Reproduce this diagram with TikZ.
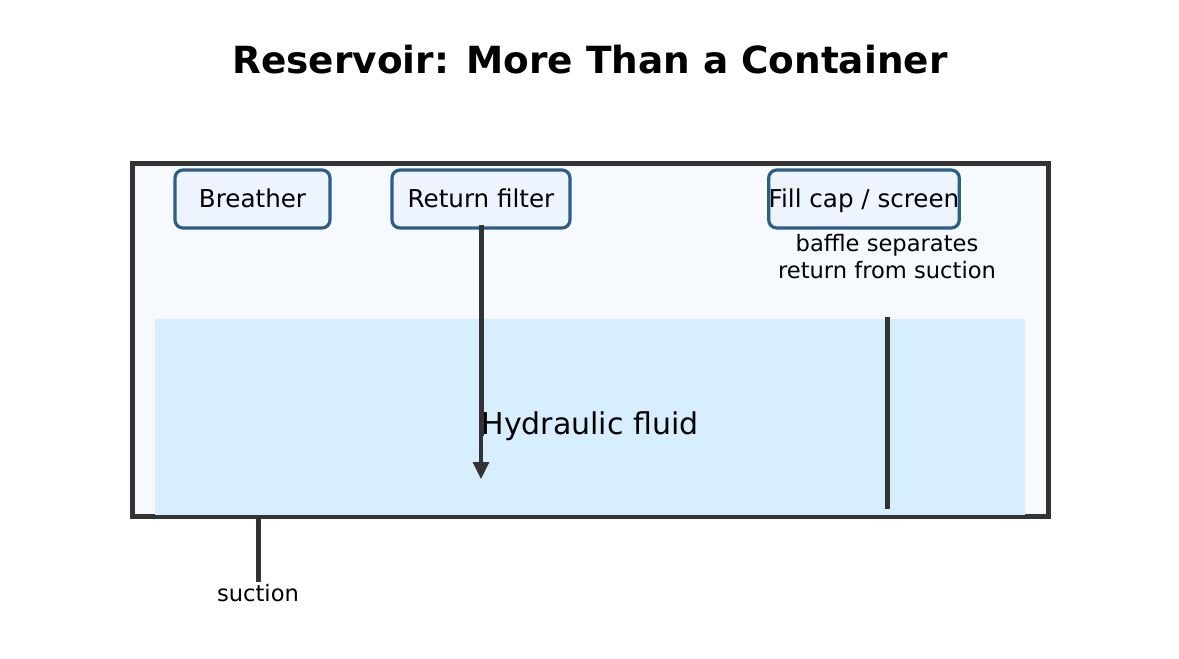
\documentclass[tikz,border=0pt]{standalone}
\usepackage{fontspec}
\setmainfont{DejaVu Sans}
\usepackage{tikz}
\usetikzlibrary{arrows.meta}

\definecolor{tankline}{HTML}{333333}
\definecolor{tankfill}{HTML}{F6FAFF}
\definecolor{fluidfill}{HTML}{D7EEFE}
\definecolor{partline}{HTML}{2C5D88}
\definecolor{partfill}{HTML}{EDF4FE}

\begin{document}
\begin{tikzpicture}[x=0.5pt,y=-0.5pt,
    part/.style={draw=partline,fill=partfill,line width=1.6pt,rounded corners=4pt,
      minimum height=29pt,inner sep=0pt,text height=11pt,text depth=3pt,
      font=\fontsize{12.3}{14}\selectfont},
    pipe/.style={draw=tankline,line width=2.5pt},
    note/.style={font=\fontsize{11.3}{13.5}\selectfont,align=center}]
    \useasboundingbox (0,0) rectangle (1179,659);
    \node (title) at (590,60) {\fontsize{18.7}{22}\selectfont\bfseries Reservoir: More Than a Container};
    % tank and fluid
    \draw[tankline,fill=tankfill,line width=2.5pt] (132,163) rectangle (1048,516);
    \fill[fluidfill] (155,319) rectangle (1025,515);
    \node (fluid) at (590,426) {\fontsize{15}{18}\selectfont Hydraulic fluid};
    % parts on top
    \node[part,minimum width=77.5pt] (breather) at (252.5,199) {Breather};
    \node[part,minimum width=89pt] (filter) at (481,199) {Return filter};
    \node[part,minimum width=95pt] (fillcap) at (864,199) {Fill cap / screen};
    \node[note] (bafflenote) at (887,257) {baffle separates\\return from suction};
    \node[note] (suction) at (258,593) {suction};
    % return line, baffle, suction pipe
    \coordinate (retend) at (481,436);
    \draw[pipe] ([yshift=2.5pt]filter.south) -- (retend);
    \draw[tankline,line width=1.6pt,-{Triangle[width=8pt,length=8.5pt]}] (retend) -- (481,479);
    \draw[pipe] (887,317) -- (887,509);
    \draw[pipe] (258,515) -- ([yshift=-2.5pt]suction.north);
\end{tikzpicture}
\end{document}
